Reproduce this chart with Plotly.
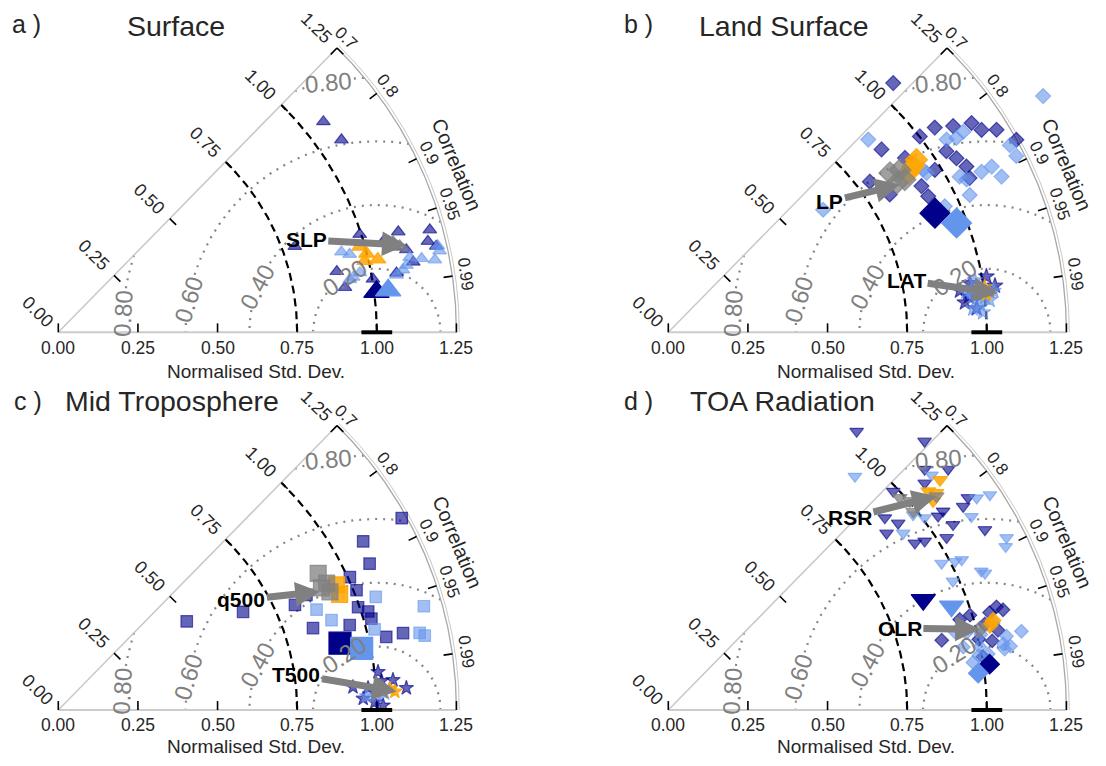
import numpy as np
import plotly.graph_objects as go

# ======================= DATA (normalised std. dev., correlation) =======================
# Panel a: Surface - SLP
slp_navy_std = [0.790, 0.995, 1.113, 1.090, 1.123, 1.210, 1.195, 1.217, 1.136, 0.895, 0.911, 1.002, 1.078, 1.063, 1.075, 1.065]
slp_navy_cor = [0.940, 0.951, 0.959, 0.969, 0.973, 0.964, 0.971, 0.975, 0.981, 0.977, 0.988, 0.986, 0.985, 0.783, 0.827, 0.962]
slp_blue_std = [0.924, 0.947, 0.942, 0.965, 1.077, 1.113, 1.128, 1.164, 1.204, 1.224, 1.222, 1.100, 0.930]
slp_blue_cor = [0.962, 0.966, 0.983, 0.981, 0.986, 0.982, 0.978, 0.980, 0.982, 0.978, 0.975, 0.984, 0.984]
slp_mean_std = [1.007, 1.044]
slp_mean_cor = [0.992, 0.992]
slp_orange_std = [0.984, 0.999, 0.988, 1.029]
slp_orange_cor = [0.962, 0.969, 0.974, 0.975]
slp_grey_std = [1.088, 1.105]
slp_grey_cor = [0.966, 0.970]

# Panel b: Land Surface - LP
lp_navy_std = [1.054, 1.055, 1.104, 1.157, 1.171, 1.211, 1.001, 0.882, 1.249, 1.042, 1.057, 1.071, 1.063, 0.980, 0.923, 0.790, 0.819, 0.918, 0.921]
lp_navy_cor = [0.670, 0.793, 0.810, 0.823, 0.840, 0.851, 0.789, 0.759, 0.875, 0.838, 0.856, 0.874, 0.890, 0.854, 0.805, 0.801, 0.849, 0.866, 0.886]
lp_blue_std = [1.391, 0.872, 1.063, 1.120, 1.091, 1.223, 1.225, 0.953, 1.037, 1.105, 1.141, 1.155, 1.040, 0.954, 0.620, 1.052, 0.949]
lp_blue_cor = [0.846, 0.720, 0.822, 0.827, 0.829, 0.877, 0.892, 0.851, 0.882, 0.890, 0.890, 0.906, 0.910, 0.910, 0.784, 0.890, 0.843]
lp_mean_std = [0.917, 0.968]
lp_mean_cor = [0.913, 0.935]
lp_orange_std = [0.929, 0.949, 0.904]
lp_orange_cor = [0.828, 0.821, 0.833]
lp_grey_std = [0.857, 0.888, 0.857, 0.884]
lp_grey_cor = [0.812, 0.819, 0.837, 0.840]

# Panel b: Land Surface - LAT
lat_navy_std = [0.959, 0.936, 0.971, 1.014, 0.925, 1.036, 0.990, 0.950]
lat_navy_cor = [0.987, 0.995, 0.997, 0.985, 0.990, 0.990, 0.993, 0.993]
lat_blue_std = [0.982, 0.944, 1.014, 1.029, 0.990, 0.960, 0.976, 1.000, 0.965]
lat_blue_cor = [0.996, 0.991, 0.995, 0.992, 0.998, 0.997, 0.986, 0.994, 0.993]
lat_orange_std = [1.004, 1.006]
lat_orange_cor = [0.990, 0.993]
lat_grey_std = [1.017]
lat_grey_cor = [0.992]

# Panel c: Mid Troposphere - q500
q500_navy_std = [1.235, 1.094, 1.080, 1.006, 1.009, 0.995, 1.021, 1.024, 0.953, 1.055, 1.109, 0.840, 0.813, 0.859, 0.657, 0.490]
q500_navy_cor = [0.873, 0.875, 0.905, 0.910, 0.928, 0.946, 0.953, 0.960, 0.960, 0.976, 0.976, 0.952, 0.914, 0.907, 0.883, 0.823]
q500_blue_std = [1.058, 1.193, 0.870, 0.903, 1.025, 1.160, 1.174]
q500_blue_cor = [0.942, 0.962, 0.932, 0.950, 0.969, 0.978, 0.980]
q500_mean_std = [0.909, 0.972]
q500_mean_cor = [0.973, 0.980]
q500_orange_std = [0.955, 0.958]
q500_orange_cor = [0.925, 0.912]
q500_grey_std = [0.922, 0.932, 0.911, 0.930]
q500_grey_cor = [0.885, 0.904, 0.907, 0.917]

# Panel c: Mid Troposphere - T500
t500_navy_std = [1.011, 1.019, 1.055, 1.095, 0.958, 0.994, 1.020, 0.928, 0.975]
t500_navy_cor = [0.993, 0.996, 0.996, 0.998, 0.9993, 0.9997, 0.9999, 0.997, 0.9975]
t500_blue_std = [0.969, 1.000, 1.026, 1.043]
t500_blue_cor = [0.999, 0.9989, 0.9987, 0.9979]
t500_orange_std = [1.043, 1.058]
t500_orange_cor = [0.998, 0.9985]
t500_grey_std = [1.021]
t500_grey_cor = [0.9984]

# Panel d: TOA Radiation - RSR
rsr_navy_std = [1.056, 1.166, 1.104, 1.159, 1.075, 0.985, 1.153, 1.125, 0.909, 0.930, 1.043, 1.065, 1.067, 1.144, 0.882, 0.935, 0.964, 1.028]
rsr_navy_cor = [0.560, 0.690, 0.729, 0.758, 0.749, 0.717, 0.816, 0.823, 0.748, 0.776, 0.812, 0.810, 0.838, 0.869, 0.777, 0.828, 0.835, 0.850]
rsr_blue_std = [0.939, 1.108, 1.175, 1.215, 1.129, 0.983, 0.923, 1.006, 0.974, 1.014, 1.035, 1.075, 1.083, 0.981, 1.192, 1.177]
rsr_blue_cor = [0.624, 0.746, 0.824, 0.831, 0.843, 0.782, 0.799, 0.800, 0.881, 0.888, 0.890, 0.914, 0.918, 0.911, 0.891, 0.900]
rsr_mean_std = [0.872, 0.947]
rsr_mean_cor = [0.918, 0.939]
rsr_orange_std = [1.118, 1.067, 1.083, 1.059]
rsr_orange_cor = [0.763, 0.765, 0.777, 0.785]
rsr_grey_std = [0.986, 1.003, 1.030, 1.077, 0.990]
rsr_grey_cor = [0.737, 0.756, 0.767, 0.782, 0.777]

# Panel d: TOA Radiation - OLR
olr_navy_std = [0.958, 0.886, 0.993, 1.080, 1.065, 1.002, 1.054, 1.097, 1.030, 1.000, 1.040]
olr_navy_cor = [0.955, 0.969, 0.954, 0.954, 0.972, 0.986, 0.957, 0.958, 0.965, 0.975, 0.978]
olr_blue_std = [0.933, 0.967, 0.968, 1.072, 1.073, 1.056, 0.947, 0.998, 1.087, 1.093, 1.136, 1.010, 1.020, 0.990]
olr_blue_cor = [0.965, 0.968, 0.988, 0.981, 0.984, 0.966, 0.978, 0.980, 0.977, 0.983, 0.976, 0.972, 0.985, 0.985]
olr_mean_std = [1.019, 0.980]
olr_mean_cor = [0.990, 0.993]
olr_orange_std = [1.044, 1.058]
olr_orange_cor = [0.967, 0.964]
olr_grey_std = [1.010]
olr_grey_cor = [0.968]

# Axis ticks / labels
std_ticks = [0.0, 0.25, 0.5, 0.75, 1.0, 1.25]
std_tick_labels = ["0.00", "0.25", "0.50", "0.75", "1.00", "1.25"]
cor_ticks = [0.7, 0.8, 0.9, 0.95, 0.99]
cor_tick_labels = ["0.7", "0.8", "0.9", "0.95", "0.99"]
rms_levels = [0.2, 0.4, 0.6, 0.8]
panel_letters = ["a )", "b )", "c )", "d )"]
panel_titles = ["Surface", "Land Surface", "Mid Troposphere", "TOA Radiation"]

# ======================= GEOMETRY / STYLE =======================
OFF = 8                      # page body margin of the html page
W, H = 1106 - 2 * OFF, 766 - 2 * OFF
S = 318.5
TH0 = np.arccos(0.7)
RMAX = 1.25
FONT = "Liberation Sans, Arial, Helvetica, sans-serif"
TXT = "#262626"

# pixel positions in the window (converted to figure pixels below)
PANELS = [
    dict(ox=58.3, oy=332.3, px=(0, 553), py=(0, 383), ax=""),
    dict(ox=668.3, oy=332.3, px=(553, 1106), py=(0, 383), ax="2"),
    dict(ox=58.3, oy=710.0, px=(0, 553), py=(383, 766), ax="3"),
    dict(ox=668.3, oy=710.0, px=(553, 1106), py=(383, 766), ax="4"),
]
for p in PANELS:
    p["ox"] -= OFF
    p["oy"] -= OFF
    p["px"] = (max(p["px"][0] - OFF, 0), min(p["px"][1] - OFF, W))
    p["py"] = (max(p["py"][0] - OFF, 0), min(p["py"][1] - OFF, H))
# (letter x, title x, centre y) in window pixels; None y -> pinned to top
TITLE_POS = [(10, 125, None), (622, 697, None), (12, 63, 401), (622, 688, 401)]

NAVY = "rgba(0,0,139,0.6)"
BLUE = "rgba(100,149,237,0.6)"
ORANGE = "rgba(255,165,0,0.85)"
GREY = "rgba(128,128,128,0.75)"
MEAN_COLS = ["#00008b", "#6495ed"]

VARS = [
    dict(p=0, name="SLP", sym="triangle-up", sz=12, msz=22, osz=14,
         navy=(slp_navy_std, slp_navy_cor), blue=(slp_blue_std, slp_blue_cor),
         mean=(slp_mean_std, slp_mean_cor), orange=(slp_orange_std, slp_orange_cor),
         grey=(slp_grey_std, slp_grey_cor), lab=(0.831, 0.937), head=(1.127, 0.970)),
    dict(p=1, name="LP", sym="diamond", sz=11.5, msz=23, osz=17,
         navy=(lp_navy_std, lp_navy_cor), blue=(lp_blue_std, lp_blue_cor),
         mean=(lp_mean_std, lp_mean_cor), orange=(lp_orange_std, lp_orange_cor),
         grey=(lp_grey_std, lp_grey_cor), lab=(0.653, 0.777), head=(0.862, 0.843)),
    dict(p=1, name="LAT", sym="star", sz=12, msz=14, osz=11,
         navy=(lat_navy_std, lat_navy_cor), blue=(lat_blue_std, lat_blue_cor),
         mean=None, orange=(lat_orange_std, lat_orange_cor),
         grey=(lat_grey_std, lat_grey_cor), lab=(0.766, 0.977), head=(1.042, 0.993)),
    dict(p=2, name="q500", sym="square", sz=11.5, msz=22, osz=16,
         navy=(q500_navy_std, q500_navy_cor), blue=(q500_blue_std, q500_blue_cor),
         mean=(q500_mean_std, q500_mean_cor), orange=(q500_orange_std, q500_orange_cor),
         grey=(q500_grey_std, q500_grey_cor), lab=(0.671, 0.857), head=(0.901, 0.911)),
    dict(p=2, name="T500", sym="star", sz=11, msz=14, osz=11,
         navy=(t500_navy_std, t500_navy_cor), blue=(t500_blue_std, t500_blue_cor),
         mean=None, orange=(t500_orange_std, t500_orange_cor),
         grey=(t500_grey_std, t500_grey_cor), lab=(0.756, 0.989), head=(1.064, 0.9985)),
    dict(p=3, name="RSR", sym="triangle-down", sz=12, msz=21, osz=13,
         navy=(rsr_navy_std, rsr_navy_cor), blue=(rsr_blue_std, rsr_blue_cor),
         mean=(rsr_mean_std, rsr_mean_cor), orange=(rsr_orange_std, rsr_orange_cor),
         grey=(rsr_grey_std, rsr_grey_cor), lab=(0.830, 0.687), head=(1.077, 0.782)),
    dict(p=3, name="OLR", sym="diamond", sz=10.5, msz=15, osz=12,
         navy=(olr_navy_std, olr_navy_cor), blue=(olr_blue_std, olr_blue_cor),
         mean=(olr_mean_std, olr_mean_cor), orange=(olr_orange_std, olr_orange_cor),
         grey=(olr_grey_std, olr_grey_cor), lab=(0.771, 0.943), head=(1.010, 0.968)),
]

RMS_LABELS = [("0.20", 0.900, 0.173, -33), ("0.40", 0.626, 0.143, -62),
              ("0.60", 0.409, 0.104, -73), ("0.80", 0.202, 0.060, -87),
              ("0.80", 0.847, 0.785, -5)]


def xy(std, cor):
    std = np.asarray(std, float)
    cor = np.asarray(cor, float)
    return std * cor, std * np.sqrt(np.clip(1 - cor ** 2, 0, None))


def segs(x, y, ok):
    xs, ys = [], []
    prev = False
    for xi, yi, k in zip(x, y, ok):
        if k:
            xs.append(float(xi)); ys.append(float(yi))
        elif prev:
            xs.append(None); ys.append(None)
        prev = k
    return xs, ys


fig = go.Figure()
layout = dict(width=W, height=H, autosize=False, margin=dict(l=0, r=0, t=0, b=0, pad=0),
              paper_bgcolor="white", plot_bgcolor="white", showlegend=False,
              font=dict(family=FONT, color=TXT))
annotations = []

for i, p in enumerate(PANELS):
    ax = p["ax"]
    xr = [(p["px"][0] - p["ox"]) / S, (p["px"][1] - p["ox"]) / S]
    yr = [(p["oy"] - p["py"][1]) / S, (p["oy"] - p["py"][0]) / S]
    layout["xaxis" + ax] = dict(domain=[p["px"][0] / W, p["px"][1] / W], range=xr,
                                visible=False, fixedrange=True, anchor="y" + ax)
    layout["yaxis" + ax] = dict(domain=[1 - p["py"][1] / H, 1 - p["py"][0] / H], range=yr,
                                visible=False, fixedrange=True, anchor="x" + ax)
    XA, YA = "x" + ax, "y" + ax

    def line(xs, ys, color, width, dash="solid"):
        fig.add_trace(go.Scatter(x=xs, y=ys, mode="lines", xaxis=XA, yaxis=YA,
                                 line=dict(color=color, width=width, dash=dash),
                                 hoverinfo="skip", cliponaxis=False))

    # RMS dotted circles around reference point
    for R in rms_levels:
        phi = np.linspace(0, np.pi, 900)
        cx = 1 + R * np.cos(phi)
        cy = R * np.sin(phi)
        ok = (np.hypot(cx, cy) <= RMAX) & (np.arctan2(cy, cx) <= TH0)
        for t, lx, ly, _ in RMS_LABELS:
            if abs(float(t) - R) < 1e-6:
                ok &= np.hypot(cx - lx, cy - ly) > 0.075
        xs, ys = segs(cx, cy, ok)
        line(xs, ys, "#858585", 2.2, "2px,6px")

    # dashed std arcs
    th = np.linspace(0, TH0, 200)
    for R in [0.75, 1.0]:
        line(list(R * np.cos(th)), list(R * np.sin(th)), "black", 2.2, "8px,5px")

    # frame: bottom axis, left edge, outer arc
    line([0, RMAX], [0, 0], "#cccccc", 2)
    line([0, RMAX * np.cos(TH0)], [0, RMAX * np.sin(TH0)], "#c8c8c8", 1.5)
    line(list(RMAX * np.cos(th)), list(RMAX * np.sin(th)), "#a8a8a8", 1.3)
    line(list(1.259 * np.cos(th)), list(1.259 * np.sin(th)), "#c8c8c8", 1.0)

    # ticks
    tk = 0.028
    tx, ty = [], []
    for s in std_ticks:
        tx += [s, s, None]; ty += [0, tk, None]
    for s in std_ticks[1:]:
        bx, by = s * np.cos(TH0), s * np.sin(TH0)
        tx += [bx, bx + tk * np.sin(TH0), None]; ty += [by, by - tk * np.cos(TH0), None]
    for c in cor_ticks:
        a = np.arccos(c)
        tx += [RMAX * np.cos(a), (RMAX - tk) * np.cos(a), None]
        ty += [RMAX * np.sin(a), (RMAX - tk) * np.sin(a), None]
    line(tx, ty, "black", 1.6)

    # std labels bottom and along the left edge
    for s, lab in zip(std_ticks, std_tick_labels):
        annotations.append(dict(x=s, y=-0.048, xref=XA, yref=YA, text=lab, showarrow=False,
                                font=dict(size=17.5, color=TXT), xanchor="center", yanchor="middle",
                                borderpad=0))
        ex = s * np.cos(TH0) - 0.09 * np.sin(TH0)
        ey = s * np.sin(TH0) + 0.09 * np.cos(TH0)
        annotations.append(dict(x=ex, y=ey, xref=XA, yref=YA, text=lab, showarrow=False,
                                textangle=90 - np.degrees(TH0),
                                font=dict(size=18, color=TXT), xanchor="center", yanchor="middle"))
    # correlation labels
    for c, lab in zip(cor_ticks, cor_tick_labels):
        a = np.arccos(c)
        annotations.append(dict(x=1.292 * np.cos(a), y=1.292 * np.sin(a), xref=XA, yref=YA,
                                text=lab, showarrow=False, textangle=90 - np.degrees(a),
                                font=dict(size=17, color=TXT), xanchor="center", yanchor="middle"))
    a = np.radians(22.8)
    annotations.append(dict(x=1.358 * np.cos(a), y=1.358 * np.sin(a), xref=XA, yref=YA,
                            text="Correlation", showarrow=False, textangle=90 - 22.8,
                            font=dict(size=20, color=TXT), xanchor="center", yanchor="middle"))
    # axis title pinned to the bottom of its panel area
    annotations.append(dict(x=0.622, y=yr[0] + 0.0015, xref=XA, yref=YA, text="Normalised Std. Dev.",
                            showarrow=False, font=dict(size=19, color=TXT),
                            xanchor="center", yanchor="bottom", borderpad=0))
    # RMS labels
    for t, lx, ly, ang in RMS_LABELS:
        annotations.append(dict(x=lx, y=ly, xref=XA, yref=YA, text=t, showarrow=False,
                                textangle=ang, font=dict(size=24, color="#808080"),
                                xanchor="center", yanchor="middle"))
    # panel letter and title
    lx0, tx0, ty0 = TITLE_POS[i]
    if ty0 is None:
        yy, yanc = 1.0, "top"
    else:
        yy, yanc = 1 - (ty0 - OFF) / H, "middle"
    annotations.append(dict(x=(lx0 - OFF) / W, y=yy, xref="paper", yref="paper",
                            text=panel_letters[i], showarrow=False, font=dict(size=25, color=TXT),
                            xanchor="left", yanchor=yanc))
    annotations.append(dict(x=(tx0 - OFF) / W, y=yy, xref="paper", yref="paper",
                            text=panel_titles[i], showarrow=False, font=dict(size=28.5, color=TXT),
                            xanchor="left", yanchor=yanc))

# ======================= data markers =======================
for v in VARS:
    ax = PANELS[v["p"]]["ax"]
    XA, YA = "x" + ax, "y" + ax

    def pts(std, cor, color, lcolor, size):
        x, y = xy(std, cor)
        fig.add_trace(go.Scatter(x=x, y=y, mode="markers", xaxis=XA, yaxis=YA,
                                 marker=dict(symbol=v["sym"], size=size, color=color,
                                             line=dict(color=lcolor, width=1.2)),
                                 hoverinfo="skip", cliponaxis=False))

    pts(*v["navy"], NAVY, NAVY, v["sz"])
    pts(*v["blue"], BLUE, BLUE, v["sz"])
    if v["mean"] is not None:
        ms, mc = v["mean"]
        for k in range(len(ms)):
            pts([ms[k]], [mc[k]], MEAN_COLS[k], MEAN_COLS[k], v["msz"])
    pts(*v["orange"], ORANGE, ORANGE, v["osz"])
    pts(*v["grey"], GREY, GREY, v["osz"])

# reference point markers
for p in PANELS:
    ax = p["ax"]
    fig.add_trace(go.Scatter(x=[1.0], y=[0.0], mode="markers", xaxis="x" + ax, yaxis="y" + ax,
                             marker=dict(symbol="line-ew", size=22,
                                         line=dict(color="black", width=4)),
                             hoverinfo="skip", cliponaxis=False))

# arrows with variable labels
for v in VARS:
    ax = PANELS[v["p"]]["ax"]
    hx, hy = xy([v["head"][0]], [v["head"][1]])
    lx, ly = xy([v["lab"][0]], [v["lab"][1]])
    annotations.append(dict(x=float(hx[0]), y=float(hy[0]), ax=float(lx[0]), ay=float(ly[0]),
                            xref="x" + ax, yref="y" + ax, axref="x" + ax, ayref="y" + ax,
                            text="<b>%s</b>" % v["name"], showarrow=True, arrowhead=2,
                            arrowsize=0.7, arrowwidth=7, arrowcolor="#808080", standoff=0,
                            font=dict(size=21, color="black")))

layout["annotations"] = annotations
fig.update_layout(**layout)
fig.write_html("out.html")
